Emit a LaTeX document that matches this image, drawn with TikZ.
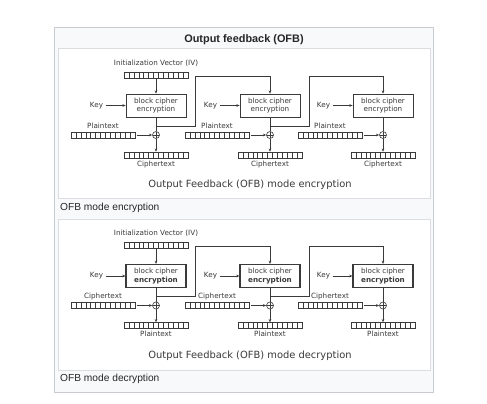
\documentclass[tikz,border=0pt]{standalone}
\usepackage{fontspec}
\setmainfont{Liberation Sans}
\newfontfamily\djv{DejaVu Sans}
\usetikzlibrary{arrows.meta,calc}
\definecolor{framebg}{HTML}{F8F9FA}
\definecolor{frameline}{HTML}{C8CCD1}
\definecolor{panelline}{HTML}{DCDDE0}
\definecolor{ink}{HTML}{3A3A3A}
\begin{document}
\begin{tikzpicture}[x=1pt,y=-1pt,
 lbl/.style={font=\djv\fontsize{7.2}{8}\selectfont, text=ink, inner sep=0pt},
 reg/.style={draw=ink, line width=0.5pt, minimum width=64pt, minimum height=6pt, inner sep=0pt,
   path picture={\foreach \i in {1,...,12}{\draw[ink,line width=0.4pt] ([xshift=\i*4.923pt]path picture bounding box.south west) -- ([xshift=\i*4.923pt]path picture bounding box.north west);}}},
 blk/.style={draw=ink, line width=0.7pt, minimum width=60pt, minimum height=23pt, inner sep=0pt, align=center, font=\djv\fontsize{7.2}{8.8}\selectfont, text=ink},
 xor/.style={draw=ink, line width=0.6pt, circle, minimum size=7pt, inner sep=0pt,
   path picture={\draw[ink,line width=0.5pt] (path picture bounding box.north) -- (path picture bounding box.south) (path picture bounding box.west) -- (path picture bounding box.east);}},
 conn/.style={draw=ink, line width=0.6pt},
 arr/.style={conn, -{Stealth[length=3.2pt,width=2.6pt]}},
 capin/.style={font=\djv\fontsize{9.9}{12}\selectfont, text=ink, inner sep=0pt},
 capout/.style={font=\fontsize{10.2}{12}\selectfont, text=black!85, inner sep=0pt, anchor=west}
]
\fill[white] (0,0) rectangle (487,404);
\useasboundingbox (0,0) rectangle (487,404);
% frame
\draw[frameline, fill=framebg, line width=0.8pt] (54,27) rectangle (433,392);
\node[font=\bfseries\fontsize{10.9}{13}\selectfont, text=black!85, inner sep=0pt] (title) at (244,39.5) {Output feedback (OFB)};
\draw[panelline, fill=white, line width=0.8pt] (58,48) rectangle (430,198);
\draw[panelline, fill=white, line width=0.8pt] (58,219) rectangle (430,370);
\node[capout] (foot-e) at (60,208) {OFB mode encryption};
\node[capout] (foot-d) at (60,378.5) {OFB mode decryption};

\foreach \p/\dy/\inl/\outl/\md/\lw/\fs in {e/0/Plaintext/Ciphertext/encryption/0.7pt/\mdseries, d/170.5/Ciphertext/Plaintext/decryption/1.1pt/\bfseries}{
  \node[lbl] (ivl\p) at (156,63+\dy) {Initialization Vector (IV)};
  \node[reg] (iv\p) at (156,75+\dy) {};
  \node[capin] (cap\p) at (250,185+\dy) {Output Feedback (OFB) mode \md};
  \foreach \s/\x in {1/156,2/270,3/383}{
    \node[blk, line width=\lw] (b\p\s) at (\x,105.5+\dy) {block cipher\\{\fs encryption}};
    \node[lbl] (k\p\s) at (\x-59.5,105.5+\dy) {Key};
    \draw[arr, shorten <=2.5pt] (k\p\s) -- (b\p\s);
    \node[xor] (x\p\s) at (\x,135+\dy) {};
    \node[reg] (i\p\s) at (\x-53,135+\dy) {};
    \node[lbl, anchor=base] (il\p\s) at (\x-53,128+\dy) {\inl};
    \draw[arr, shorten <=1.5pt] (i\p\s) -- (x\p\s);
    \node[reg] (o\p\s) at (\x,155+\dy) {};
    \node[lbl, anchor=base] (ol\p\s) at (\x,166+\dy) {\outl};
    \coordinate (t\p\s) at (\x,126+\dy);
    \draw[conn] (b\p\s) -- (x\p\s);
    \draw[arr] (x\p\s) -- (o\p\s);
  }
  \draw[arr] (iv\p) -- (b\p1);
  \foreach \s/\n/\x in {1/2/156,2/3/270}{
    \coordinate (f\p\s) at (\x+39,76+\dy);
    \draw[arr] (t\p\s) -- (f\p\s |- t\p\s) -- (f\p\s) -| (b\p\n.north);
  }
}
\end{tikzpicture}
\end{document}
